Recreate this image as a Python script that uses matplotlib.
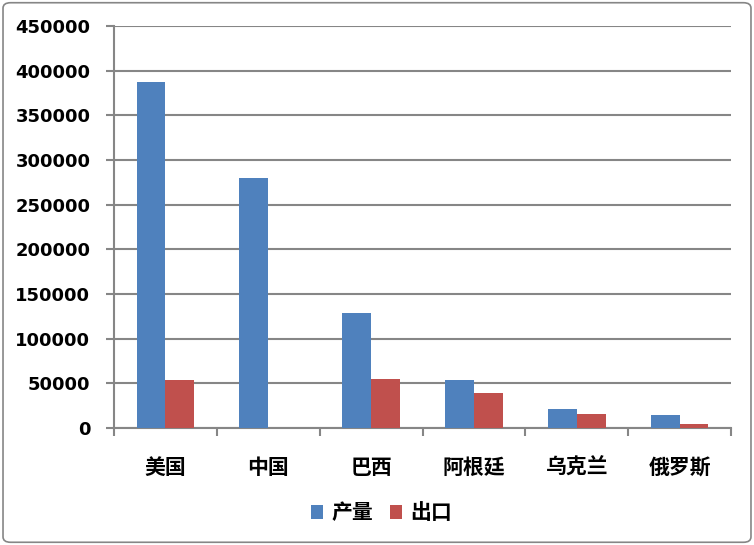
import matplotlib

matplotlib.use("Agg")
import matplotlib.pyplot as plt
import numpy as np
from matplotlib.patches import FancyBboxPatch

plt.rcParams["font.family"] = ["DejaVu Sans", "Noto Sans CJK SC"]

countries = ["美国", "中国", "巴西", "阿根廷", "乌克兰", "俄罗斯"]
production = [387000, 279500, 129000, 53300, 21600, 14800]
exports = [53300, 500, 54400, 39700, 15900, 4000]
series_names = ["产量", "出口"]
y_ticks = [0, 50000, 100000, 150000, 200000, 250000, 300000, 350000, 400000, 450000]

BLUE = "#4F81BD"
RED = "#C0504D"
GRID = "#868686"

fig = plt.figure(figsize=(7.54, 5.45), dpi=100)
ax = fig.add_axes([0.1512, 0.2147, 0.8183, 0.7376])

x = np.arange(len(countries))
w = 0.28
ax.bar(x - w / 2, production, w, color=BLUE, label=series_names[0], zorder=3)
ax.bar(x + w / 2, exports, w, color=RED, label=series_names[1], zorder=3)

ax.set_xlim(-0.5, len(countries) - 0.5)
ax.set_ylim(0, 450000)
ax.set_yticks(y_ticks)
ax.set_yticklabels([str(v) for v in y_ticks], fontsize=13, fontweight="bold")
ax.yaxis.grid(True, color=GRID, linewidth=1.5, zorder=0)

ax.set_xticks(x)
ax.set_xticklabels(countries, fontsize=15, fontweight="bold",
                   family=["Noto Sans CJK SC", "DejaVu Sans"])
ax.set_xticks(np.arange(-0.5, len(countries)), minor=True)
ax.tick_params(axis="x", which="major", length=0, pad=21)
ax.tick_params(axis="x", which="minor", length=6, width=1.5, color=GRID)
ax.tick_params(axis="y", length=6, width=1.5, color=GRID, pad=11)

for side in ("top", "right"):
    ax.spines[side].set_visible(False)
for side in ("left", "bottom"):
    ax.spines[side].set_color(GRID)
    ax.spines[side].set_linewidth(1.5)

fig.legend(loc="center", bbox_to_anchor=(0.506, 0.059), ncol=2, frameon=False,
           prop={"family": ["Noto Sans CJK SC", "DejaVu Sans"], "weight": "bold", "size": 15},
           handlelength=0.6, handleheight=0.6, handletextpad=0.4, columnspacing=0.8)

border = FancyBboxPatch((0.004, 0.005), 0.992, 0.99, boxstyle="round,pad=0,rounding_size=0.01",
                        transform=fig.transFigure, fill=False, edgecolor=GRID, linewidth=1.2)
fig.patches.append(border)

fig.savefig("out.png", dpi=100)
plt.close(fig)
